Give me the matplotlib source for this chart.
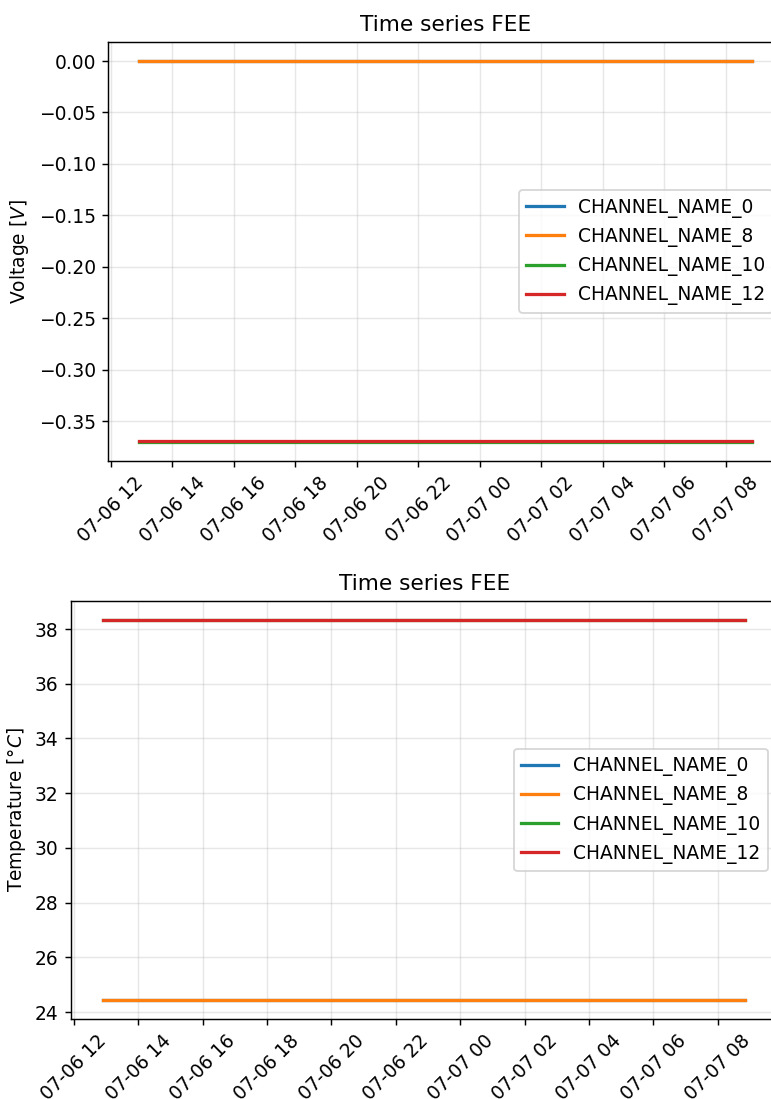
"""Time series of the FEE channels: voltage and temperature."""

import datetime as dt

import matplotlib
matplotlib.use("Agg")
import matplotlib.dates as mdates
import matplotlib.pyplot as plt

DPI = 130

# Start and end of the recording.
times = [dt.datetime(2023, 7, 6, 12, 55), dt.datetime(2023, 7, 7, 8, 51)]

channels = ["CHANNEL_NAME_0", "CHANNEL_NAME_8", "CHANNEL_NAME_10", "CHANNEL_NAME_12"]

# Constant readings per channel.
voltage = [0.0, 0.0, -0.3703, -0.3694]
temperature = [24.44, 24.44, 38.325, 38.33]


def plot_panel(ax, values, ylabel):
    for name, val in zip(channels, values):
        ax.plot(times, [val] * len(times), label=name, lw=1.8)
    ax.set_title("Time series FEE")
    ax.set_ylabel(ylabel, fontsize=10.3)
    ax.grid(alpha=0.3)
    ax.spines["right"].set_visible(False)
    ax.xaxis.set_major_locator(mdates.HourLocator(byhour=range(0, 24, 2)))
    ax.xaxis.set_major_formatter(mdates.DateFormatter("%m-%d %H"))
    ax.tick_params(axis="x", labelrotation=45, labelsize=10.3)
    ax.tick_params(axis="y", labelsize=10.3)
    ax.legend(loc="center right", fontsize=10.3)


fig = plt.figure(figsize=(771 / DPI, 1099 / DPI), dpi=DPI)
ax1 = fig.add_axes([108.4 / 771, 1 - 461 / 1099, 674 / 771, 419 / 1099])
ax2 = fig.add_axes([71.3 / 771, 1 - 1019 / 1099, 706 / 771, 418 / 1099])

plot_panel(ax1, voltage, "Voltage [$V$]")
plot_panel(ax2, temperature, "Temperature [°$C$]")

fig.savefig("out.png", dpi=DPI)
